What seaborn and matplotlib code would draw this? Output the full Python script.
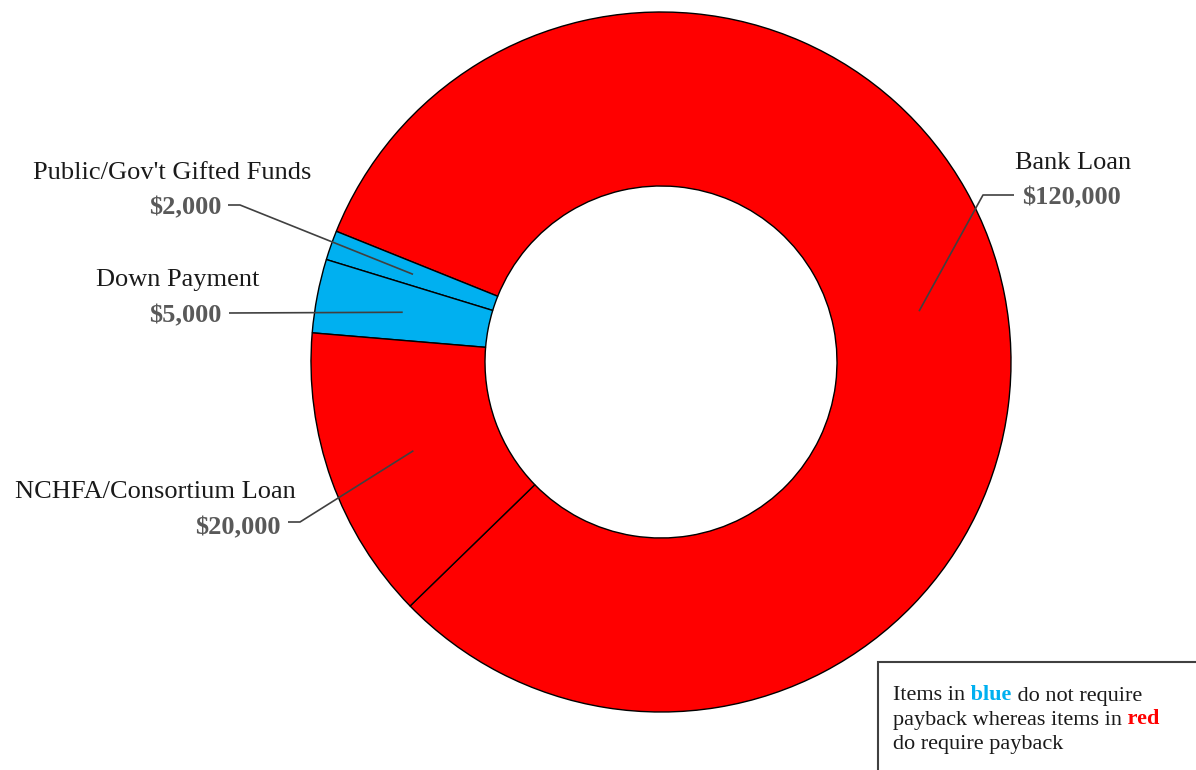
import numpy as np
import matplotlib
matplotlib.use("Agg")
import matplotlib.pyplot as plt
import seaborn as sns

# ---- data ----
categories = ["Bank Loan", "Public/Gov't Gifted Funds", "Down Payment", "NCHFA/Consortium Loan"]
values = [120000, 2000, 5000, 20000]
value_labels = ["$120,000", "$2,000", "$5,000", "$20,000"]
payback = [True, False, False, True]

sns.set_theme(style="white")
plt.rcParams["font.family"] = ["Liberation Serif", "DejaVu Serif"]

RED = "#FF0000"
BLUE = "#00B0F0"
W, H = 1196, 770

fig = plt.figure(figsize=(W / 100, H / 100), dpi=100)
ax = fig.add_axes([0, 0, 1, 1])

cx, cy = 661, H - 362
R_OUT, R_IN = 350, 176
colors = [RED if p else BLUE for p in payback]
wedges, _ = ax.pie(values, colors=colors, startangle=224.2, counterclock=True,
                   center=(cx, cy), radius=R_OUT,
                   wedgeprops=dict(width=R_OUT - R_IN, edgecolor="black", linewidth=1.0))

ax.set_xlim(0, W)
ax.set_ylim(0, H)
ax.set_aspect("equal")
ax.axis("off")

LINE = "#404040"
VAL = "#595959"
FS = 19
DY = 3  # visual centring offset

def mid_point(w, r=263):
    a = np.deg2rad((w.theta1 + w.theta2) / 2)
    return cx + r * np.cos(a), cy + r * np.sin(a)

def Y(y):
    return H - y

# label layout (image coords): name pos, value pos, leader path
layout = {
    "Bank Loan": dict(name=(1073, 160, "center"), val=(1071, 195, "center"),
                      path=[(983, 195), (1014, 195)]),
    "Public/Gov't Gifted Funds": dict(name=(172, 170, "center"), val=(221, 205, "right"),
                                      path=[(240, 205), (228, 205)]),
    "Down Payment": dict(name=(178, 277, "center"), val=(221, 313, "right"),
                         path=[(229, 313)]),
    "NCHFA/Consortium Loan": dict(name=(155, 489, "center"), val=(281, 525, "right"),
                                  path=[(300, 522), (288, 522)]),
}

for w, cat, vl in zip(wedges, categories, value_labels):
    L = layout[cat]
    sx, sy = mid_point(w)
    xs = [sx] + [p[0] for p in L["path"]]
    ys = [sy] + [Y(p[1]) for p in L["path"]]
    ax.plot(xs, ys, color=LINE, lw=1.2, solid_capstyle="butt")
    nx, ny, nha = L["name"]
    ax.text(nx, Y(ny + DY), cat, ha=nha, va="center", fontsize=FS, color="#1a1a1a")
    vx, vy, vha = L["val"]
    ax.text(vx, Y(vy + DY), vl, ha=vha, va="center", fontsize=FS, color=VAL, fontweight="bold")

# note box
box = plt.Rectangle((878, Y(800)), 400, 138, transform=ax.transData,
                    facecolor="white", edgecolor="#404040", lw=1.5, clip_on=True)
ax.add_patch(box)

lines = [
    [("Items in", "#1a1a1a", "normal"), (" blue", BLUE, "bold"), (" do not require", "#1a1a1a", "normal")],
    [("payback whereas items in", "#1a1a1a", "normal"), (" red", RED, "bold")],
    [("do require payback", "#1a1a1a", "normal")],
]
ys_note = [696, 720, 745]
FS2 = 16
for segs, yl in zip(lines, ys_note):
    prev = None
    for txt, col, wt in segs:
        if prev is None:
            prev = ax.text(893, Y(yl), txt, ha="left", va="center", fontsize=FS2,
                           color=col, fontweight=wt)
        else:
            prev = ax.annotate(txt, xy=(1, 0), xycoords=prev, ha="left", va="bottom",
                               fontsize=FS2, color=col, fontweight=wt)

fig.savefig("out.png", dpi=100)
